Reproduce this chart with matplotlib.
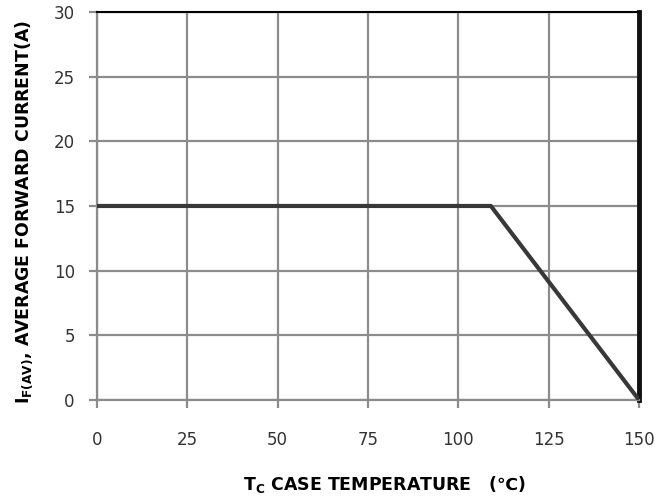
import matplotlib.pyplot as plt

# derating curve
temp = [0, 109, 150]
current = [15, 15, 0]
xticks = [0, 25, 50, 75, 100, 125, 150]
yticks = [0, 5, 10, 15, 20, 25, 30]

fig = plt.figure(figsize=(6.59, 4.97), dpi=100)
ax = fig.add_axes([0.1472, 0.1952, 0.8225, 0.7807])

ax.plot(temp, current, color='#383838', lw=3, solid_capstyle='butt', zorder=5)

ax.set_xlim(0, 150)
ax.set_ylim(0, 30)
ax.set_xticks(xticks)
ax.set_yticks(yticks)
ax.grid(True, color='#8c8c8c', lw=1.6)
ax.set_axisbelow(True)

for s in ['left', 'bottom']:
    ax.spines[s].set_color('#8c8c8c')
    ax.spines[s].set_linewidth(1.6)
ax.spines['top'].set_color('black')
ax.spines['top'].set_linewidth(1.5)
ax.spines['right'].set_color('#111111')
ax.spines['right'].set_linewidth(3.5)

ax.tick_params(axis='both', length=6, width=1.6, color='#8c8c8c',
               labelsize=12, labelcolor='#333333')
ax.tick_params(axis='x', pad=16)
ax.tick_params(axis='y', pad=10)

ax.set_xlabel(r'T$_\mathregular{C}$ CASE TEMPERATURE   (℃)', fontsize=12.5,
              fontweight='bold')
ax.xaxis.set_label_coords(0.531, -0.19)
ax.set_ylabel(r'I$_\mathregular{F(AV)}$, AVERAGE FORWARD CURRENT(A)', fontsize=12.5,
              fontweight='bold')
ax.yaxis.set_label_coords(-0.114, 0.485)

fig.savefig('out.png', dpi=100, facecolor='white')
plt.close('all')
